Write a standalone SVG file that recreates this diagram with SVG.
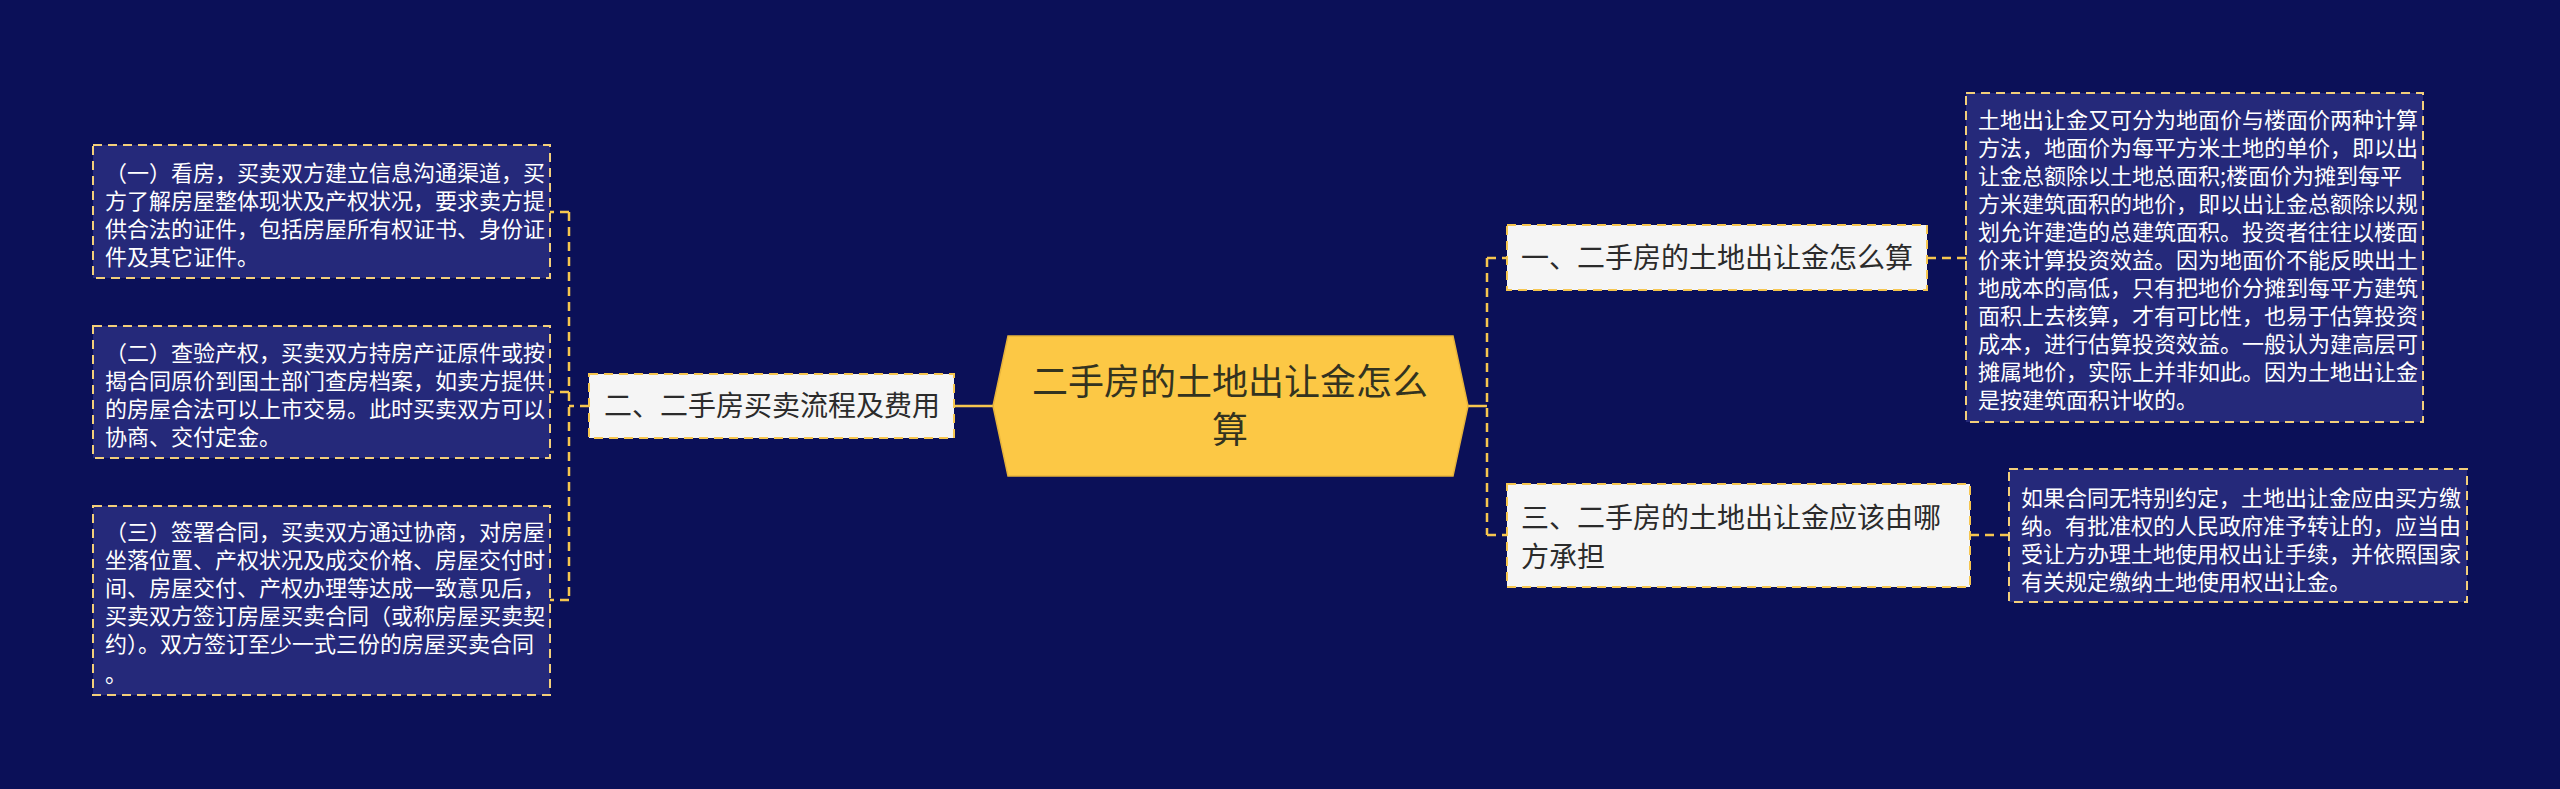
<svg xmlns="http://www.w3.org/2000/svg" width="2560" height="789" viewBox="0 0 2560 789">
<style>
.t{font-family:"Noto Sans CJK SC","Liberation Sans",sans-serif;}
.detail{fill:#25297a;stroke:#f3cf7a;stroke-width:2;stroke-dasharray:9,6;}
.node{fill:#f5f5f5;stroke:#f6c64f;stroke-width:2;stroke-dasharray:9,6;}
.dt{font-size:22px;fill:#ffffff;}
.nt{font-size:28px;fill:#2b2b2b;}
.conn{fill:none;stroke:#f6c64f;stroke-width:2.5;}
.dash{stroke-dasharray:9,6;}
</style>
<rect width="2560" height="789" fill="#0b1058"/>
<g id="connectors">
<path class="conn" d="M993,406 L954,406"/>
<path class="conn dash" d="M589,406 L569,406 M569,212 L569,600 M569,212 L550,212 M569,392 L550,392 M569,600 L550,600"/>
<path class="conn" d="M1468,406 L1487,406"/>
<path class="conn dash" d="M1487,258 L1487,535 M1487,258 L1507,258 M1487,535 L1507,535"/>
<path class="conn dash" d="M1927,258 L1966,258"/>
<path class="conn dash" d="M1970,535 L2009,535"/>
</g>
<g id="center">
<polygon points="993,406 1008,336 1453,336 1468,406 1453,476 1008,476" fill="#fcc845" stroke="#e8b43a" stroke-width="1.5"/>
<text class="t" font-size="36" fill="#333320" text-anchor="middle" x="1230" y="395">二手房的土地出让金怎么</text>
<text class="t" font-size="36" fill="#333320" text-anchor="middle" x="1230" y="443">算</text>
</g>
<g id="node-2">
<rect class="node" x="589" y="374" width="365" height="64"/>
<text class="t nt" x="604" y="416">二、二手房买卖流程及费用</text>
</g>
<g id="detail-2-1">
<rect class="detail" x="93" y="145" width="457" height="133"/>
<text class="t dt"><tspan x="105" y="181">（一）看房，买卖双方建立信息沟通渠道，买</tspan><tspan x="105" y="209">方了解房屋整体现状及产权状况，要求卖方提</tspan><tspan x="105" y="237">供合法的证件，包括房屋所有权证书、身份证</tspan><tspan x="105" y="265">件及其它证件。</tspan></text>
</g>
<g id="detail-2-2">
<rect class="detail" x="93" y="326" width="457" height="132"/>
<text class="t dt"><tspan x="105" y="361">（二）查验产权，买卖双方持房产证原件或按</tspan><tspan x="105" y="389">揭合同原价到国土部门查房档案，如卖方提供</tspan><tspan x="105" y="417">的房屋合法可以上市交易。此时买卖双方可以</tspan><tspan x="105" y="445">协商、交付定金。</tspan></text>
</g>
<g id="detail-2-3">
<rect class="detail" x="93" y="506" width="457" height="189"/>
<text class="t dt"><tspan x="105" y="540">（三）签署合同，买卖双方通过协商，对房屋</tspan><tspan x="105" y="568">坐落位置、产权状况及成交价格、房屋交付时</tspan><tspan x="105" y="596">间、房屋交付、产权办理等达成一致意见后，</tspan><tspan x="105" y="624">买卖双方签订房屋买卖合同（或称房屋买卖契</tspan><tspan x="105" y="652">约）。双方签订至少一式三份的房屋买卖合同</tspan><tspan x="105" y="682">。</tspan></text>
</g>
<g id="node-1">
<rect class="node" x="1507" y="225" width="420" height="65"/>
<text class="t nt" x="1521" y="268">一、二手房的土地出让金怎么算</text>
</g>
<g id="detail-1">
<rect class="detail" x="1966" y="93" width="457" height="329"/>
<text class="t dt"><tspan x="1978" y="128">土地出让金又可分为地面价与楼面价两种计算</tspan><tspan x="1978" y="156">方法，地面价为每平方米土地的单价，即以出</tspan><tspan x="1978" y="184">让金总额除以土地总面积;楼面价为摊到每平</tspan><tspan x="1978" y="212">方米建筑面积的地价，即以出让金总额除以规</tspan><tspan x="1978" y="240">划允许建造的总建筑面积。投资者往往以楼面</tspan><tspan x="1978" y="268">价来计算投资效益。因为地面价不能反映出土</tspan><tspan x="1978" y="296">地成本的高低，只有把地价分摊到每平方建筑</tspan><tspan x="1978" y="324">面积上去核算，才有可比性，也易于估算投资</tspan><tspan x="1978" y="352">成本，进行估算投资效益。一般认为建高层可</tspan><tspan x="1978" y="380">摊属地价，实际上并非如此。因为土地出让金</tspan><tspan x="1978" y="408">是按建筑面积计收的。</tspan></text>
</g>
<g id="node-3">
<rect class="node" x="1507" y="484" width="463" height="103"/>
<text class="t nt"><tspan x="1521" y="528">三、二手房的土地出让金应该由哪</tspan><tspan x="1521" y="567">方承担</tspan></text>
</g>
<g id="detail-3">
<rect class="detail" x="2009" y="469" width="458" height="133"/>
<text class="t dt"><tspan x="2021" y="506">如果合同无特别约定，土地出让金应由买方缴</tspan><tspan x="2021" y="534">纳。有批准权的人民政府准予转让的，应当由</tspan><tspan x="2021" y="562">受让方办理土地使用权出让手续，并依照国家</tspan><tspan x="2021" y="590">有关规定缴纳土地使用权出让金。</tspan></text>
</g>
</svg>
